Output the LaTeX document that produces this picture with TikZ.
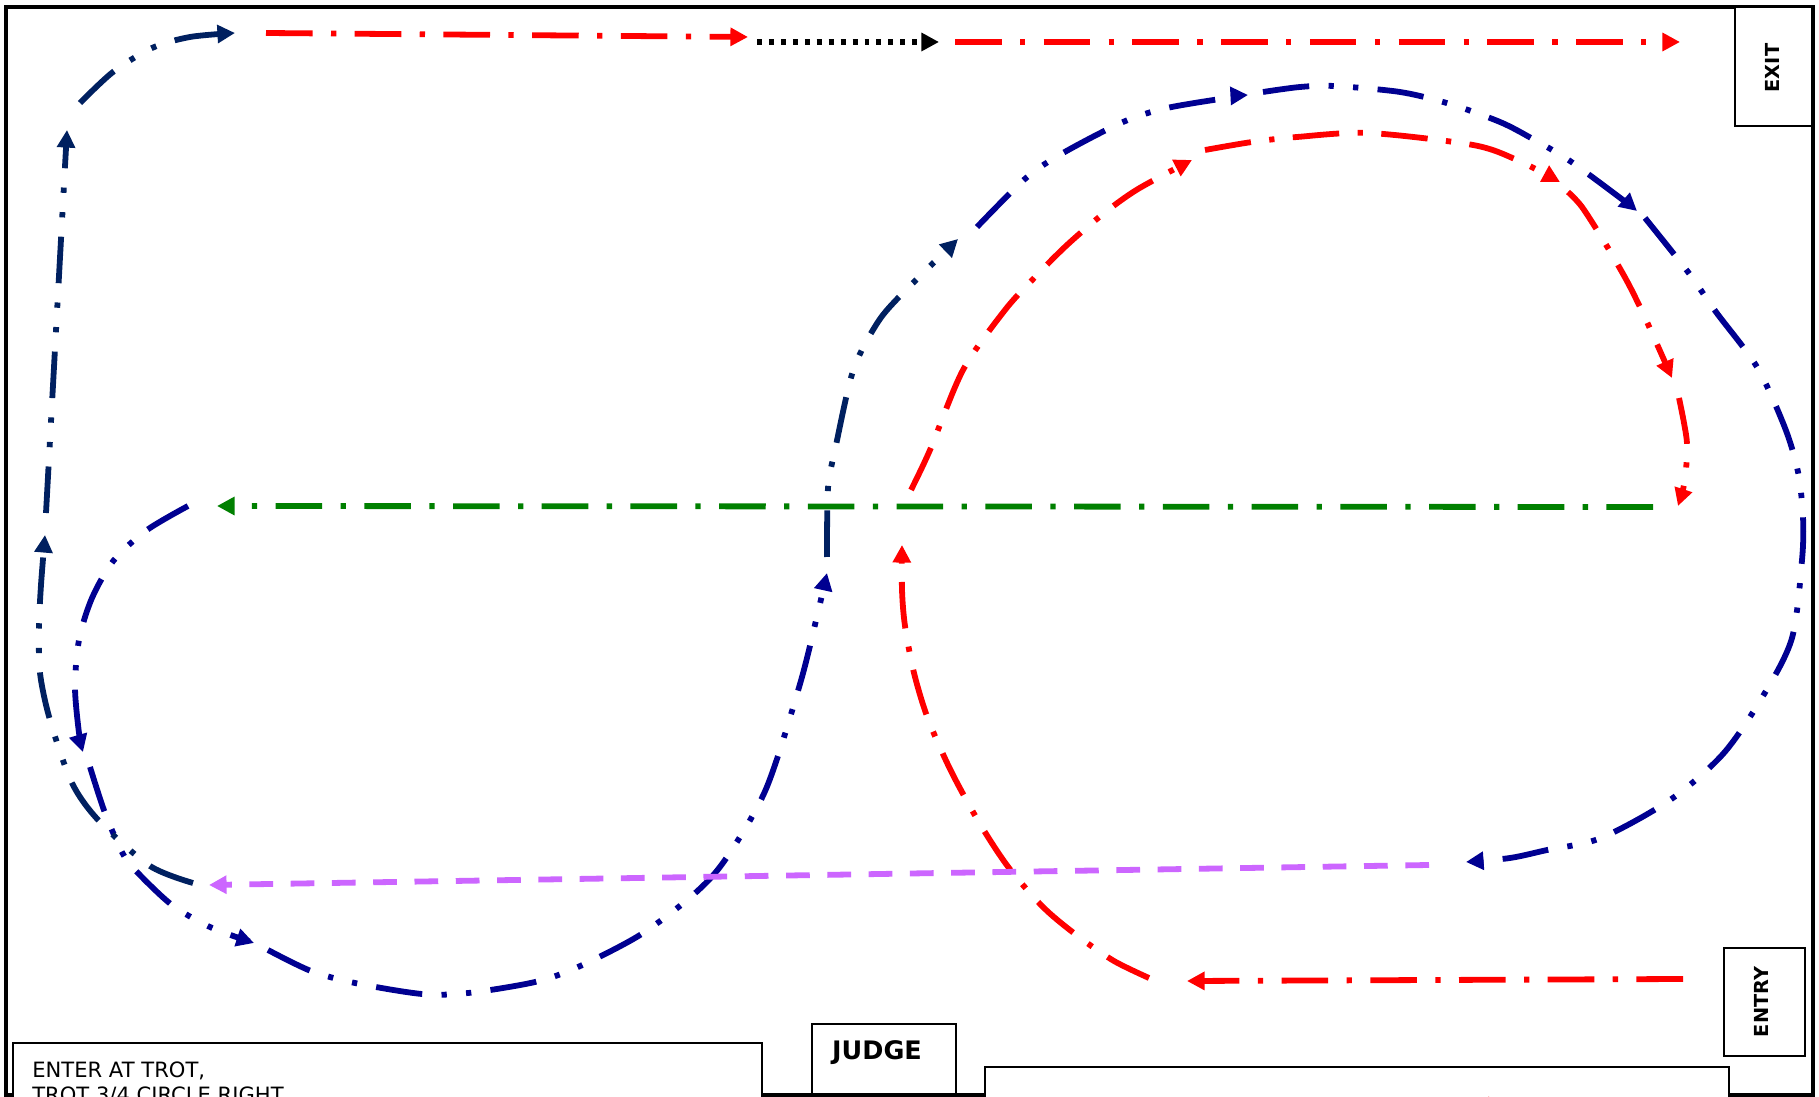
\documentclass[tikz,border=0pt]{standalone}
\usepackage{fontspec}
\setmainfont{DejaVu Sans}
\usetikzlibrary{arrows.meta}
\definecolor{trackred}{RGB}{255,0,0}
\definecolor{trackgreen}{RGB}{0,128,0}
\definecolor{trackviolet}{RGB}{204,102,255}
\definecolor{tracknavy}{RGB}{0,32,96}
\definecolor{trackblue}{RGB}{0,0,145}
\tikzset{
  trackline/.style={line width=3.3pt, -{Triangle[length=10pt,width=10pt]}},
  dashdot/.style={trackline, dash pattern=on 26.5pt off 10.5pt on 3pt off 10.5pt},
  dashdotdot/.style={trackline, dash pattern=on 26.5pt off 11pt on 3pt off 11pt on 3pt off 11pt},
  dashline/.style={trackline, dash pattern=on 13.5pt off 10pt},
  dotline/.style={trackline, dash pattern=on 2.8pt off 4pt},
  boxline/.style={draw=black, fill=white, line width=1.1pt},
  sidelabel/.style={font=\bfseries\fontsize{11pt}{12pt}\selectfont, rotate=90},
  notetext/.style={font=\fontsize{12pt}{14pt}\selectfont, anchor=base west, inner sep=0pt},
}
\begin{document}
\begin{tikzpicture}[x=0.02cm, y=-0.02cm]
  \useasboundingbox (0,0) rectangle (1819,1097);
  \clip (0,0) rectangle (1819,1097);
  \fill[white] (0,0) rectangle (1819,1097);

  % arena outline
  \draw[line width=2.3pt] (6,7) rectangle (1813,1095);

  % exit and entry gates
  \draw[boxline] (1735,7) rectangle (1812,126);
  \node[sidelabel] (exit) at (1772,68) {EXIT};
  \draw[boxline] (1724,948) rectangle (1805,1056);
  \node[sidelabel] (entry) at (1761,1002) {ENTRY};

  % judge box and pattern description boxes
  \draw[boxline] (812,1024) rectangle (956,1094);
  \node[font=\bfseries\fontsize{14.5pt}{16pt}\selectfont] (judge) at (877,1053) {JUDGE};
  \draw[boxline] (13,1043) rectangle (762,1200);
  \node[notetext] (line1) at (32,1077) {ENTER AT TROT,};
  \node[notetext] (line2) at (32,1102) {TROT 3/4 CIRCLE RIGHT};
  \draw[boxline] (985,1067) rectangle (1729,1200);
  \draw[dashdot, trackred] (1440,1106) -- (1506,1106);

  % entry line and 3/4 circle right (red)
  \draw[dashdot, trackred] (1683,979) -- (1187,981);
  \draw[dashdot, trackred] plot[smooth] coordinates {(1149,978) (1114,961) (1079,937) (1044,908) (1009,868) (980,824) (951,771) (928,719) (914,673) (905,626) (902,590) (902,545)};
  \draw[dashdot, trackred] plot[smooth] coordinates {(911,490) (930,450) (963,370) (1005,310) (1037,275) (1067,245) (1103,214) (1138,189) (1192,160)};
  \draw[dashdot, trackred] plot[smooth] coordinates {(1205,150) (1252,142) (1297,137) (1369,133) (1473,145) (1517,160) (1560,182)};
  \draw[dashdot, trackred] plot[smooth] coordinates {(1568,192) (1582,207) (1605,243) (1628,283) (1647,322) (1672,378)};
  \draw[dashdot, trackred] plot[smooth] coordinates {(1679,398) (1684,423) (1687,445) (1685,480) (1678,506)};

  % diagonal across the arena (green)
  \draw[dashdot, trackgreen] (1653,507) -- (217,506);

  % figure eight (blue)
  \draw[dashdotdot, trackblue] plot[smooth] coordinates {(188,506) (147,530) (114,560) (92,598) (79,640) (75,687) (79,733) (83,752)};
  \draw[dashdotdot, trackblue] plot[smooth] coordinates {(90,767) (105,813) (123,854) (137,872) (172,905) (210,927) (254,943)};
  \draw[dashdotdot, trackblue] plot[smooth] coordinates {(268,950) (311,971) (355,983) (422,994) (468,993) (535,982) (578,967) (640,935) (693,895) (725,860) (766,789) (800,684) (818,612) (827,573)};
  \draw[dashdotdot, tracknavy] plot[smooth] coordinates {(827,557) (828,488) (835,450) (853,371) (876,325) (899,297) (958,239)};
  \draw[dashdotdot, trackblue] plot[smooth] coordinates {(977,227) (1026,178) (1063,153) (1123,122) (1167,108) (1233,97) (1248,95)};
  \draw[dashdotdot, trackblue] plot[smooth] coordinates {(1263,92) (1300,87) (1334,86) (1400,92) (1450,104) (1500,122) (1531,138) (1570,161) (1623,200) (1637,211)};
  \draw[dashdotdot, trackblue] plot[smooth] coordinates {(1645,218) (1688,272) (1716,312) (1757,367) (1785,428) (1798,472) (1803,517) (1802,560) (1792,638) (1763,696) (1723,754) (1670,800) (1601,838) (1547,850) (1510,858) (1466,862)};

  % across the arena (violet)
  \draw[dashline, trackviolet] (1429,865) -- (209,885);

  % left side and top line towards the exit (navy)
  \draw[dashdotdot, tracknavy] plot[smooth] coordinates {(193,883) (150,866) (100,822) (72,783) (50,720) (40,673) (39,627) (41,585) (45,535)};
  \draw[dashdotdot, tracknavy] (46,513) -- (67,130);
  \draw[dashdotdot, tracknavy] plot[smooth] coordinates {(80,103) (113,72) (152,48) (190,37) (235,33)};
  \draw[dashdot, trackred] (266,33) -- (748,37);
  \draw[dotline, black] (757,42) -- (939,42);
  \draw[dashdot, trackred] (955,42) -- (1680,42);
\end{tikzpicture}
\end{document}
